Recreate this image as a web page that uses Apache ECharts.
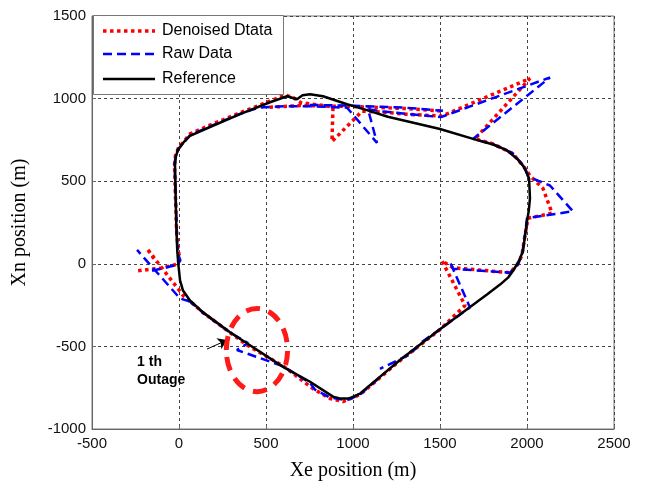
<!DOCTYPE html>
<html><head><meta charset="utf-8">
<script src="https://cdn.jsdelivr.net/npm/echarts@6/dist/echarts.min.js"></script>
<style>html,body{margin:0;padding:0;background:#fff}#c{width:645px;height:486px}</style>
</head><body><div id="c"></div>
<script>
// ---- data ----
const seriesNames = ['Denoised Dtata', 'Raw Data', 'Reference'];
const xTickRange = [-500, 2500, 500];
const yTickRange = [-1000, 1500, 500];

const referencePath = [
  [6,-100],[-4,0],[-10,80],[-16,250],[-20,450],[-23,600],[-18,650],[-6,690],[30,740],[63,774],
  [178,828],[351,906],[523,978],[621,1014],[660,1002],[678,996],[710,1020],[753,1026],[828,1014],
  [966,966],[1080,930],[1200,890],[1500,816],[1690,756],[1805,722],[1880,690],[1943,636],[1980,590],
  [2000,546],[2012,516],[2017,396],[2010,320],[2000,258],[1990,180],[1977,78],[1955,20],[1920,-42],
  [1891,-84],[1845,-126],[1770,-186],[1500,-396],[1270,-582],[1040,-786],[990,-810],[966,-816],
  [930,-816],[885,-804],[753,-714],[598,-624],[293,-414],[138,-294],[63,-222],[23,-162],[6,-100]
];

const rawPath = [
  [63,-228],[6,-210],[-241,84],null,[-155,-42],[-11,-6],[8,20],[-6,60],[-12,150],[-16,300],[-20,450],
  [-26,600],[-20,650],[-6,692],[63,778],[178,832],[351,908],[460,946],[600,954],[750,954],[966,945],
  [1138,732],[1086,936],[1172,922],[1300,908],[1505,888],[2132,1128],[1690,756],[1805,724],[1920,668],
  [1990,580],[2006,528],[2132,474],[2264,318],[2000,276],[1985,150],[1971,54],[1950,0],[1902,-54],
  [1575,-30],[1557,12],[1672,-264],[1500,-396],[1400,-470],[1328,-548],[1155,-636],null,
  [1140,-700],[1040,-792],[966,-826],[868,-810],[782,-762],[753,-722],[598,-620],[333,-522],[397,-480],
  [293,-416],[138,-296],[63,-228],
  null,[750,962],[1000,957],[1300,945],[1517,926]
];

const denoisedPath = [
  [63,-226],[30,-200],[-184,92],[-150,40],[-130,10],null,[-235,-42],[-100,-26],[-11,-3],[5,30],
  [-4,80],[-14,200],[-20,400],[-26,600],[-20,656],[-4,700],[63,786],[178,840],[351,914],[523,985],
  [610,1022],[660,1004],[700,975],[850,955],[885,948],[879,740],[1052,924],[1172,918],[1300,906],
  [1510,894],[2017,1122],[1701,756],[1805,726],[1920,666],[1990,576],[2017,534],[2092,456],[2144,306],
  [2006,276],[1985,150],[1971,54],[1950,0],[1902,-54],[1575,-24],[1511,18],[1644,-252],[1500,-398],
  [1270,-586],[1040,-792],[943,-834],[868,-815],[770,-756],[598,-618],[391,-492],[293,-416],
  [138,-296],[63,-226],
  null,[520,948],[700,958],[1000,952],[1300,940],[1510,925]
];

// outage annotation (data coordinates)
const outageEllipse = { cx: 448, cy: -522, rx: 176, ry: 252 };
const outageArrow = [[161, -516], [276, -462]];
const outageText = [
  { text: '1 th', at: [-241, -594] },
  { text: 'Outage', at: [-241, -702] }
];

// ---- styles ----
const sans = '"Liberation Sans", Arial, Helvetica, sans-serif';
const serif = '"Liberation Serif", "Times New Roman", serif';
const styles = [
  { color: '#ff0000', width: 3.5, dash: [3.5, 3.5] },
  { color: '#0000ff', width: 2.5, dash: [9, 5] },
  { color: '#000000', width: 2.5, dash: null }
];

const chart = echarts.init(document.getElementById('c'), null, { renderer: 'canvas' });
const gridLine = { show: true, lineStyle: { color: '#444', width: 1, type: [3, 3] } };
const plain = (v) => String(v);

chart.setOption({
  animation: false,
  backgroundColor: '#fff',
  grid: { left: 92, right: 31, top: 16, bottom: 53, show: true, borderColor: '#777', borderWidth: 1, backgroundColor: 'transparent' },
  xAxis: {
    type: 'value', min: xTickRange[0], max: xTickRange[1], interval: xTickRange[2],
    name: 'Xe position (m)', nameLocation: 'middle', nameGap: 32,
    nameTextStyle: { fontFamily: serif, fontSize: 20, color: '#000' },
    axisLine: { show: true, onZero: false, lineStyle: { color: '#666', width: 1 } },
    axisTick: { show: true, inside: true, length: 4, lineStyle: { color: '#666' } },
    axisLabel: { fontFamily: sans, fontSize: 15, color: '#111', margin: 7, formatter: plain },
    splitLine: gridLine
  },
  yAxis: {
    type: 'value', min: yTickRange[0], max: yTickRange[1], interval: yTickRange[2],
    name: 'Xn position (m)', nameLocation: 'middle', nameGap: 62,
    nameTextStyle: { fontFamily: serif, fontSize: 20, color: '#000' },
    axisLine: { show: true, onZero: false, lineStyle: { color: '#666', width: 1 } },
    axisTick: { show: true, inside: true, length: 4, lineStyle: { color: '#666' } },
    axisLabel: { fontFamily: sans, fontSize: 15, color: '#111', margin: 6, formatter: plain },
    splitLine: gridLine
  },
  series: [
    { name: seriesNames[0], type: 'line', data: denoisedPath, symbol: 'none', connectNulls: false,
      lineStyle: { color: styles[0].color, width: styles[0].width, type: styles[0].dash }, z: 2 },
    { name: seriesNames[1], type: 'line', data: rawPath, symbol: 'none', connectNulls: false,
      lineStyle: { color: styles[1].color, width: styles[1].width, type: styles[1].dash }, z: 2 },
    { name: seriesNames[2], type: 'line', data: referencePath, symbol: 'none',
      lineStyle: { color: styles[2].color, width: styles[2].width }, z: 2,
      markLine: {
        silent: true, animation: false, symbol: ['none', 'arrow'], symbolSize: 9,
        label: { show: false },
        lineStyle: { color: '#000', width: 1, type: 'solid' },
        data: [[{ coord: outageArrow[0] }, { coord: outageArrow[1] }]]
      }
    }
  ]
});

// annotations placed through the axes' scales
const p = (v) => chart.convertToPixel({ gridIndex: 0 }, v);
const c = p([outageEllipse.cx, outageEllipse.cy]);
const ex = p([outageEllipse.cx + outageEllipse.rx, outageEllipse.cy]);
const ey = p([outageEllipse.cx, outageEllipse.cy + outageEllipse.ry]);
const graphics = [{
  type: 'ellipse', z: 10,
  shape: { cx: c[0], cy: c[1], rx: Math.abs(ex[0] - c[0]), ry: Math.abs(ey[1] - c[1]) },
  style: { fill: 'none', stroke: '#ff1a1a', lineWidth: 5, lineDash: [14, 9] }
}];
outageText.forEach(t => {
  const q = p(t.at);
  graphics.push({
    type: 'text', x: q[0], y: q[1], z: 10,
    style: { text: t.text, font: 'bold 14px ' + sans, fill: '#000', verticalAlign: 'middle', textVerticalAlign: 'middle' }
  });
});

// legend box (MATLAB style)
const lg = { x: 93, y: 15, w: 190, h: 79, lineX0: 103, lineX1: 155, textX: 162, rows: [31, 54, 79] };
graphics.push({ type: 'rect', z: 20, shape: { x: lg.x + 0.5, y: lg.y + 0.5, width: lg.w, height: lg.h },
  style: { fill: '#fff', stroke: '#777', lineWidth: 1 } });
seriesNames.forEach((n, i) => {
  const st = styles[i];
  graphics.push({ type: 'line', z: 21,
    shape: { x1: lg.lineX0, y1: lg.rows[i], x2: lg.lineX1, y2: lg.rows[i] },
    style: { stroke: st.color, lineWidth: st.width, lineDash: st.dash || null } });
  graphics.push({ type: 'text', z: 21, x: lg.textX, y: lg.rows[i],
    style: { text: n, font: '16px ' + sans, fill: '#000', verticalAlign: 'middle', textVerticalAlign: 'middle' } });
});
chart.setOption({ graphic: graphics });
</script>
</body></html>
